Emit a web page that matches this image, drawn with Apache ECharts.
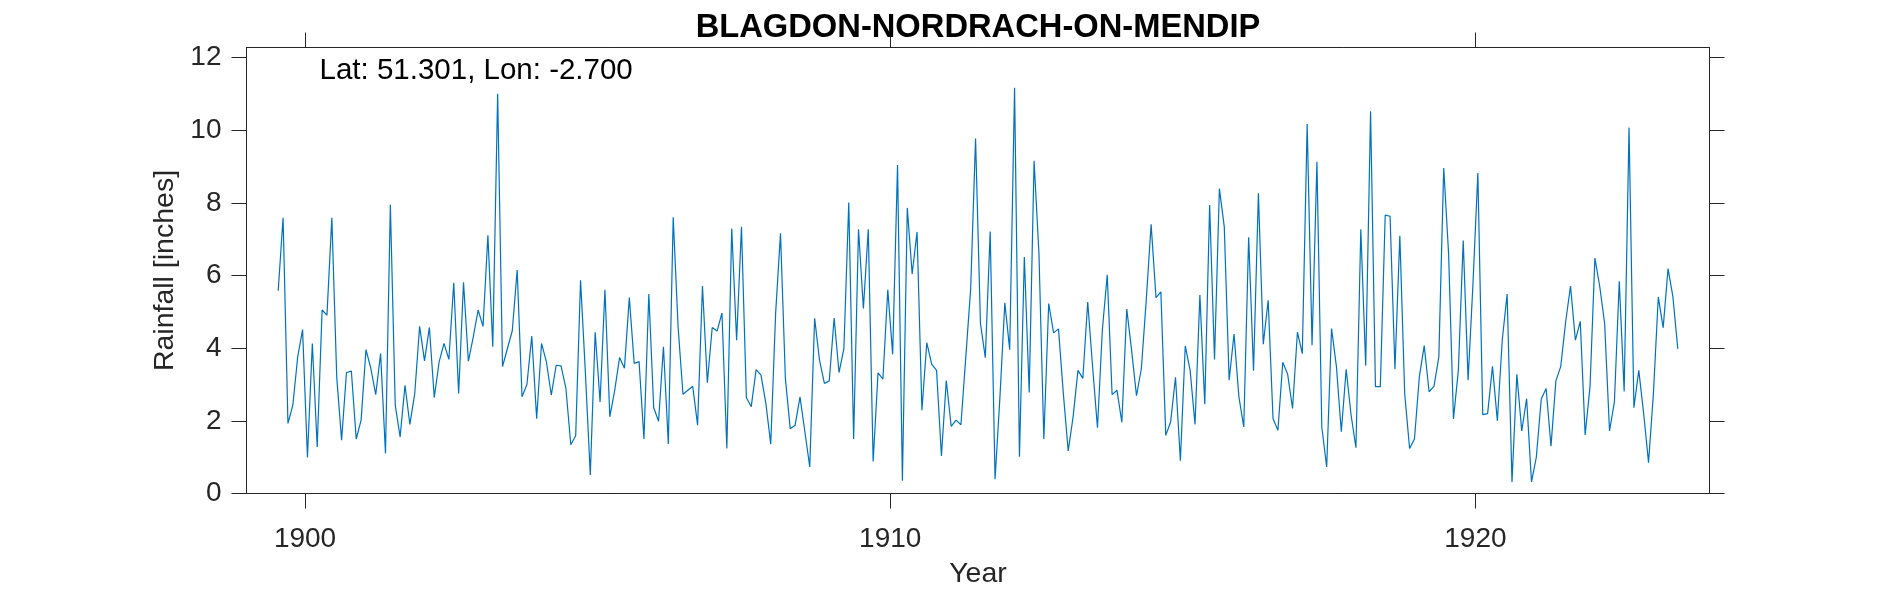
<!DOCTYPE html>
<html>
<head>
<meta charset="utf-8">
<style>html,body{margin:0;padding:0;background:#fff}#c{width:1890px;height:591px}</style>
<script src="https://cdn.jsdelivr.net/npm/echarts@6/dist/echarts.min.js"></script>
</head>
<body>
<div id="c"></div>
<script>
const startYear = 1899;
const startMonthIndex = 6;   // July
const rainfall = [
5.58,7.59,1.93,2.43,3.76,4.51,0.99,4.13,1.28,5.05,
4.91,7.59,3.21,1.47,3.33,3.37,1.5,2.02,3.96,3.44,
2.72,3.85,1.10,7.95,2.43,1.56,2.98,1.90,2.75,4.6,
3.65,4.57,2.64,3.62,4.13,3.69,5.8,2.75,5.81,3.64,
4.31,5.05,4.6,7.11,4.04,11.0,3.49,3.99,4.48,6.15,
2.66,3.0,4.33,2.06,4.13,3.62,2.71,3.53,3.51,2.89,
1.34,1.59,5.87,3.3,0.51,4.44,2.52,5.61,2.11,2.84,
3.74,3.45,5.39,3.58,3.63,1.5,5.49,2.36,1.99,
4.04,1.36,7.6,4.59,2.73,2.84,2.95,1.88,5.71,3.05,
4.57,4.47,4.97,1.24,7.29,4.22,7.34,2.64,2.39,3.41,
3.26,2.48,1.36,4.95,7.16,3.17,1.78,1.88,2.66,1.7,
0.73,4.82,3.67,3.03,3.1,4.83,3.33,3.99,8.01,1.5,
7.27,5.09,7.27,0.88,3.32,3.15,5.61,3.83,9.04,0.35,
7.86,6.04,7.2,2.29,4.15,3.56,3.39,1.03,3.11,1.85,
2.02,1.89,3.76,5.64,9.77,4.68,3.74,7.21,0.39,2.66,
5.25,3.96,11.17,1.01,6.51,2.78,9.16,6.6,1.5,5.23,
4.42,4.53,2.75,1.17,
2.11,3.39,3.17,5.27,3.49,1.81,4.5,6.02,2.72,2.84,
1.96,5.08,3.94,2.69,3.44,5.32,7.41,5.39,5.55,1.6,
1.97,3.2,0.9,4.06,3.39,1.9,5.46,2.46,7.94,3.69,
8.39,7.34,3.12,4.39,2.66,1.83,7.05,3.38,8.26,4.11,
5.32,2.06,1.74,3.61,3.28,2.34,4.44,3.85,10.17,4.08,
9.13,1.83,0.73,4.54,3.49,1.7,3.42,2.16,1.26,7.27,
3.52,10.52,2.94,2.94,7.66,7.63,3.42,7.09,2.75,1.24,
1.5,3.21,4.07,2.8,2.95,3.76,8.96,6.6,2.05,3.39,
6.96,3.12,5.78,8.82,
2.17,2.2,3.5,2.0,4.22,5.49,0.32,3.28,1.72,2.61,
0.32,1.01,2.6,2.89,1.3,3.1,3.5,4.72,5.71,4.22,
4.74,1.61,2.94,6.48,5.69,4.68,1.72,2.52,5.84,2.81,
10.07,2.36,3.39,2.2,0.85,2.75,5.41,4.56,6.19,5.41,
3.98
];
const xTickLabels = [1900, 1910, 1920];
const yTickLabels = [0, 2, 4, 6, 8, 10, 12];
const titleText = 'BLAGDON-NORDRACH-ON-MENDIP';
const noteText = 'Lat: 51.301, Lon: -2.700';
const xTitle = 'Year';
const yTitle = 'Rainfall [inches]';

const points = rainfall.map((v, i) => [startYear + (startMonthIndex + 0.5 + i) / 12, v]);
const ink = '#262626';
const font = '"Liberation Sans", Helvetica, Arial, sans-serif';
const lineStyle = { color: ink, width: 1 };

function xAxis(position, main) {
  return {
    type: 'value', position, min: 1899, max: 1924, scale: true,
    splitLine: { show: false },
    axisLine: { show: true, onZero: false, lineStyle },
    axisTick: { show: true, inside: false, length: 15, lineStyle, customValues: xTickLabels },
    axisLabel: main
      ? { show: true, color: ink, fontFamily: font, fontSize: 28, margin: 32, customValues: xTickLabels, formatter: v => String(v) }
      : { show: false },
    name: main ? xTitle : '', nameLocation: 'middle', nameGap: 66,
    nameTextStyle: { color: ink, fontFamily: font, fontSize: 28.5 }
  };
}
function yAxis(position, main) {
  return {
    type: 'value', position, min: 0, max: 12.275,
    splitLine: { show: false },
    axisLine: { show: true, onZero: false, lineStyle },
    axisTick: { show: true, inside: false, length: 15, lineStyle, customValues: yTickLabels },
    axisLabel: main
      ? { show: true, color: ink, fontFamily: font, fontSize: 28, margin: 25, padding: [4, 0, 0, 0], customValues: yTickLabels, formatter: v => String(v) }
      : { show: false },
    name: main ? yTitle : '', nameLocation: 'middle', nameGap: 61, nameRotate: 90,
    nameTextStyle: { color: ink, fontFamily: font, fontSize: 28.5 }
  };
}

const chart = echarts.init(document.getElementById('c'), null, { renderer: 'canvas' });
chart.setOption({
  animation: false,
  backgroundColor: '#fff',
  title: [
    { text: titleText, left: 973, top: 6, textAlign: 'center',
      textStyle: { color: '#000', fontFamily: font, fontSize: 32.7, fontWeight: 'bold' } },
    { text: noteText, left: 314.5, top: 51,
      textStyle: { color: '#000', fontFamily: font, fontSize: 29.5, fontWeight: 'normal' } }
  ],
  grid: { left: 246.5, top: 47.5, right: 180.5, bottom: 97.5, containLabel: false, outerBoundsMode: 'none' },
  xAxis: [xAxis('bottom', true), xAxis('top', false)],
  yAxis: [yAxis('left', true), yAxis('right', false)],
  series: [{
    type: 'line', data: points, showSymbol: false, symbol: 'none', smooth: false,
    lineStyle: { color: '#0072BD', width: 1.2 }, clip: true
  }]
});
</script>
</body>
</html>
